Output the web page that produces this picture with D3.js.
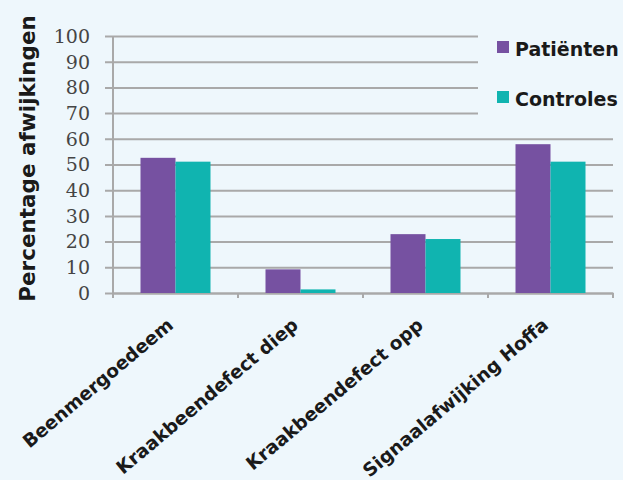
<!DOCTYPE html>
<html>
<head>
<meta charset="utf-8">
<script src="https://cdn.jsdelivr.net/npm/d3@7"></script>
<style>
  html, body { margin: 0; padding: 0; background: #eef7fc; }
  svg { display: block; }
</style>
</head>
<body>
<script>
const categories = ["Beenmergoedeem", "Kraakbeendefect diep", "Kraakbeendefect opp", "Signaalafwijking Hoffa"];
const seriesNames = ["Patiënten", "Controles"];
const patienten = [52.6, 9.2, 22.9, 57.9];
const controles = [51.1, 1.4, 21.0, 51.1];
const yTicks = [0, 10, 20, 30, 40, 50, 60, 70, 80, 90, 100];
const colors = ["#7651a1", "#10b4b0"];
const yTitle = "Percentage afwijkingen";

const W = 623, H = 480;
const margin = {top: 36, right: 10, bottom: 187, left: 113};
const svg = d3.select("body").append("svg").attr("width", W).attr("height", H);
svg.append("rect").attr("width", W).attr("height", H).attr("fill", "#eef7fc");

const x0 = d3.scaleBand().domain(categories).range([margin.left, W - margin.right]).paddingInner(0).paddingOuter(0);
const groupW = x0.bandwidth() * 0.56;
const x1 = d3.scaleBand().domain(seriesNames).range([0, groupW]).padding(0);
const y = d3.scaleLinear().domain([0, 100]).range([H - margin.bottom, margin.top]);

const gridCol = "#a9a9a9";

// gridlines with tick marks on the left
const yAxis = d3.axisLeft(y).tickValues(yTicks).tickFormat("");
const gy = svg.append("g").attr("transform", `translate(${margin.left - 8},0)`).call(yAxis);
gy.select(".domain").remove();
gy.selectAll(".tick line").attr("stroke", gridCol).attr("stroke-width", 2)
  .attr("x1", 0).attr("x2", W - margin.right - margin.left + 8);

// y tick labels
svg.append("g").selectAll("text").data(yTicks).join("text")
  .attr("x", 90).attr("y", d => y(d)).attr("dy", "0.36em")
  .attr("text-anchor", "end")
  .attr("font-family", "DejaVu Serif").attr("font-size", 19)
  .attr("fill", "#454545")
  .text(d => d);

// y axis line
svg.append("line").attr("x1", margin.left).attr("x2", margin.left)
  .attr("y1", y(100)).attr("y2", y(0) + 5)
  .attr("stroke", gridCol).attr("stroke-width", 2);

// x axis
const xAxis = d3.axisBottom(x0).tickSize(0).tickFormat("");
const gx = svg.append("g").attr("transform", `translate(0,${y(0)})`).call(xAxis);
gx.select(".domain").attr("stroke", gridCol).attr("stroke-width", 2);
const bounds = [...categories.map(c => x0(c)), x0(categories[categories.length - 1]) + x0.bandwidth()];
gx.selectAll(".bt").data(bounds).join("line").attr("class", "bt")
  .attr("x1", d => d).attr("x2", d => d).attr("y1", 0).attr("y2", 5)
  .attr("stroke", gridCol).attr("stroke-width", 2);

// legend background (covers gridlines)
svg.append("rect").attr("x", 478).attr("y", 26).attr("width", W - 478).attr("height", 100).attr("fill", "#eef7fc");

// bars
const data = categories.map((c, i) => ({cat: c, vals: [patienten[i], controles[i]]}));
const groups = svg.append("g").selectAll("g").data(data).join("g")
  .attr("transform", d => `translate(${x0(d.cat) + (x0.bandwidth() - groupW) / 2},0)`);
groups.selectAll("rect").data(d => d.vals.map((v, j) => ({name: seriesNames[j], v, j}))).join("rect")
  .attr("x", d => x1(d.name)).attr("width", x1.bandwidth())
  .attr("y", d => y(d.v)).attr("height", d => y(0) - y(d.v))
  .attr("fill", d => colors[d.j]);

// x labels
svg.append("g").selectAll("text").data(categories).join("text")
  .attr("transform", d => `translate(${x0(d) + x0.bandwidth() / 2 - 1},${y(0) + 34}) rotate(-40)`)
  .attr("text-anchor", "end")
  .attr("font-family", "DejaVu Sans").attr("font-weight", "bold").attr("font-size", 18.5)
  .attr("fill", "#1a1a1a")
  .text(d => d);

// y title
svg.append("text")
  .attr("transform", `translate(35,${(12 + 305) / 2}) rotate(-90)`)
  .attr("text-anchor", "middle")
  .attr("font-family", "DejaVu Sans").attr("font-weight", "bold").attr("font-size", 21.5)
  .attr("fill", "#1a1a1a")
  .text(yTitle);

// legend
const leg = svg.append("g").selectAll("g").data(seriesNames).join("g")
  .attr("transform", (d, i) => `translate(497,${56 + i * 50})`);
leg.append("rect").attr("x", 0).attr("y", -15).attr("width", 12).attr("height", 12)
  .attr("fill", (d, i) => colors[i]);
leg.append("text").attr("x", 18).attr("y", 0)
  .attr("font-family", "DejaVu Sans").attr("font-weight", "bold").attr("font-size", 19)
  .attr("fill", "#1a1a1a")
  .text(d => d);
</script>
</body>
</html>
